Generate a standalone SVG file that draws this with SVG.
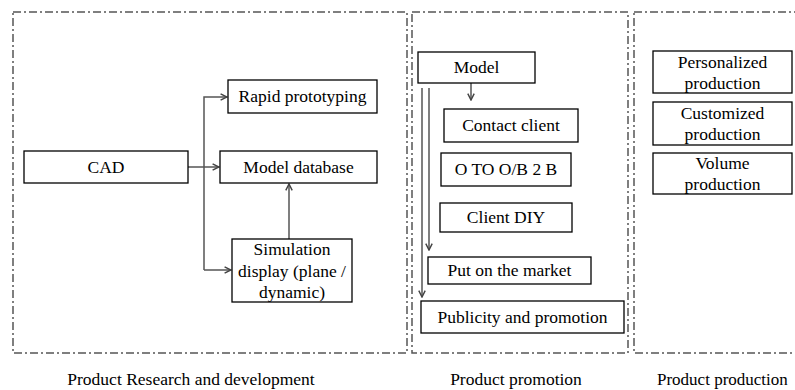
<svg xmlns="http://www.w3.org/2000/svg" width="795" height="390" viewBox="0 0 795 390">
<style>
.panel{fill:none;stroke:#555;stroke-width:1.5;stroke-dasharray:8 3 2 3}
.box{fill:#fff;stroke:#000;stroke-width:1.3}
.t{font-family:"Liberation Serif","Times New Roman",serif;font-size:17.5px;fill:#000;text-anchor:middle}
.cap{font-family:"Liberation Serif","Times New Roman",serif;font-size:17.5px;fill:#000}
.ln{fill:none;stroke:#555;stroke-width:1.5}
</style>
<defs>
<marker id="ah" viewBox="0 0 10 10" refX="9" refY="5" markerWidth="8" markerHeight="8" markerUnits="userSpaceOnUse" orient="auto">
<path d="M1,1 L9,5 L1,9" fill="none" stroke="#444" stroke-width="1.8"/>
</marker>
</defs>
<g id="panels">
<rect class="panel" x="13" y="12" width="394" height="341"/>
<rect class="panel" x="412" y="12" width="216" height="341"/>
<rect class="panel" x="634" y="12" width="170" height="341"/>
</g>
<g id="connectors">
<path class="ln" d="M188,167 H219" marker-end="url(#ah)"/>
<path class="ln" d="M204,270 V97 H227" marker-end="url(#ah)"/>
<path class="ln" d="M204,270 H231" marker-end="url(#ah)"/>
<path class="ln" d="M289,239 V184" marker-end="url(#ah)"/>
<path class="ln" d="M471,83 V100" marker-end="url(#ah)"/>
<path class="ln" d="M429,88 V250" marker-end="url(#ah)"/>
<path class="ln" d="M422,88 V297" marker-end="url(#ah)"/>
</g>
<g id="cad"><rect class="box" x="24" y="151" width="164" height="32"/><text class="t" x="106" y="173">CAD</text></g>
<g id="rapid"><rect class="box" x="228" y="80" width="149" height="33"/><text class="t" x="302.5" y="102">Rapid prototyping</text></g>
<g id="modeldb"><rect class="box" x="220" y="151" width="157" height="32"/><text class="t" x="298.5" y="173">Model database</text></g>
<g id="simulation"><rect class="box" x="232" y="239" width="120" height="63"/><text class="t" x="292" y="255">Simulation</text><text class="t" x="292" y="277">display (plane /</text><text class="t" x="292" y="298">dynamic)</text></g>
<g id="model"><rect class="box" x="418" y="52" width="117" height="31"/><text class="t" x="476.5" y="73">Model</text></g>
<g id="contact"><rect class="box" x="444" y="109" width="134" height="33"/><text class="t" x="511" y="131">Contact client</text></g>
<g id="oto"><rect class="box" x="441" y="153" width="130" height="33"/><text class="t" x="506" y="175">O TO O/B 2 B</text></g>
<g id="diy"><rect class="box" x="440" y="203" width="132" height="29"/><text class="t" x="506" y="223">Client DIY</text></g>
<g id="market"><rect class="box" x="428" y="257" width="163" height="27"/><text class="t" x="509.5" y="276">Put on the market</text></g>
<g id="publicity"><rect class="box" x="421" y="301" width="203" height="32"/><text class="t" x="522.5" y="323">Publicity and promotion</text></g>
<g id="personalized"><rect class="box" x="653" y="51" width="139" height="42"/><text class="t" x="722.5" y="68">Personalized</text><text class="t" x="722.5" y="89">production</text></g>
<g id="customized"><rect class="box" x="653" y="102" width="139" height="43"/><text class="t" x="722.5" y="119">Customized</text><text class="t" x="722.5" y="140">production</text></g>
<g id="volume"><rect class="box" x="653" y="153" width="139" height="41"/><text class="t" x="722.5" y="169">Volume</text><text class="t" x="722.5" y="190">production</text></g>
<g id="captions">
<text class="cap" x="191" y="385" text-anchor="middle">Product Research and development</text>
<text class="cap" x="516" y="385" text-anchor="middle">Product promotion</text>
<text class="cap" x="657" y="385" style="font-size:17px">Product production</text>
</g>
</svg>
